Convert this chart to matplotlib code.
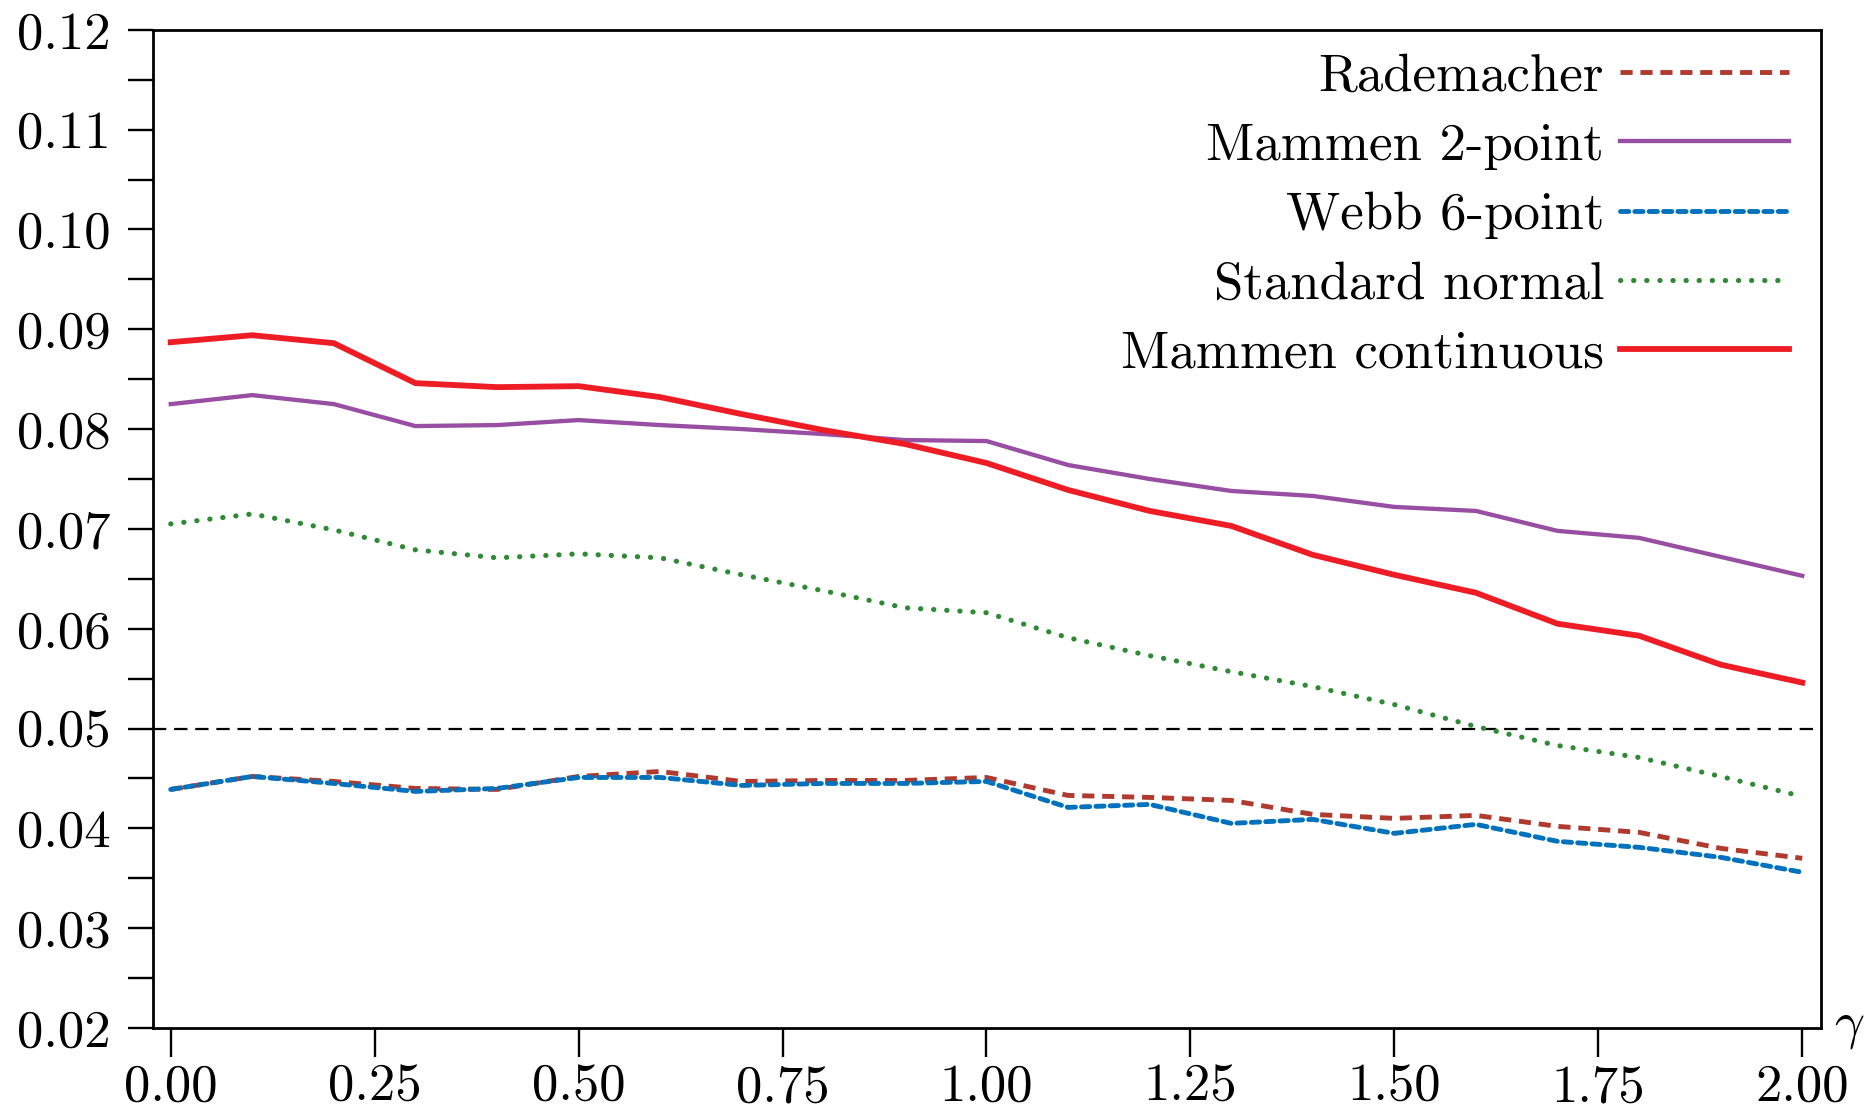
import numpy as np
import matplotlib
matplotlib.use("Agg")
import matplotlib.pyplot as plt
from matplotlib.ticker import MultipleLocator, FormatStrFormatter

# gamma grid and rejection rates
gamma = [0.0, 0.1, 0.2, 0.3, 0.4, 0.5, 0.6, 0.7, 0.8, 0.9, 1.0,
         1.1, 1.2, 1.3, 1.4, 1.5, 1.6, 1.7, 1.8, 1.9, 2.0]

rademacher = [0.0439, 0.0452, 0.0447, 0.0440, 0.0439, 0.0452, 0.0457, 0.0447, 0.0448, 0.0448, 0.0451,
              0.0433, 0.0431, 0.0428, 0.0414, 0.0410, 0.0413, 0.0402, 0.0396, 0.0380, 0.0370]
mammen2 = [0.0825, 0.0834, 0.0825, 0.0803, 0.0804, 0.0809, 0.0804, 0.0800, 0.0795, 0.0789, 0.0788,
           0.0764, 0.0750, 0.0738, 0.0733, 0.0722, 0.0718, 0.0698, 0.0691, 0.0672, 0.0653]
webb6 = [0.0439, 0.0452, 0.0445, 0.0437, 0.0440, 0.0451, 0.0451, 0.0443, 0.0445, 0.0445, 0.0447,
         0.0421, 0.0424, 0.0405, 0.0409, 0.0395, 0.0404, 0.0387, 0.0381, 0.0371, 0.0356]
std_normal = [0.0705, 0.0715, 0.0699, 0.0679, 0.0671, 0.0675, 0.0671, 0.0654, 0.0638, 0.0621, 0.0616,
              0.0591, 0.0573, 0.0557, 0.0542, 0.0524, 0.0502, 0.0483, 0.0471, 0.0452, 0.0432]
mammen_cont = [0.0887, 0.0894, 0.0886, 0.0846, 0.0842, 0.0843, 0.0832, 0.0815, 0.0799, 0.0785, 0.0766,
               0.0739, 0.0718, 0.0703, 0.0674, 0.0654, 0.0636, 0.0605, 0.0593, 0.0564, 0.0546]

nominal = 0.05

plt.rcParams['font.family'] = 'serif'
plt.rcParams['font.serif'] = ['cmr10']
plt.rcParams['mathtext.fontset'] = 'cm'
plt.rcParams['axes.formatter.use_mathtext'] = True
plt.rcParams['font.size'] = 38

fig = plt.figure(figsize=(18.7, 11.11), dpi=100)
ax = fig.add_axes([0.0817, 0.0747, 0.8921, 0.8985])

ax.axhline(nominal, color='black', lw=1.6, linestyle=(0, (6, 3.5)))

ax.plot(gamma, rademacher, color='#B03A2E', lw=3.5, linestyle=(0, (2.5, 1.6)),
        label='Rademacher')
ax.plot(gamma, mammen2, color='#984EA3', lw=3.1, label='Mammen 2-point')
ax.plot(gamma, webb6, color='#0072BD', lw=3.5, linestyle=(0, (1.7, 1.25)),
        dash_capstyle='round', label='Webb 6-point')
ax.plot(gamma, std_normal, color='#2F8A35', lw=3.7, linestyle=(0, (0.05, 2.5)),
        dash_capstyle='round', label='Standard normal')
ax.plot(gamma, mammen_cont, color='#EE1C25', lw=4.2, label='Mammen continuous')

ax.set_xlim(-0.022, 2.023)
ax.set_ylim(0.02, 0.12)
ax.xaxis.set_major_locator(MultipleLocator(0.25))
ax.xaxis.set_major_formatter(FormatStrFormatter('%.2f'))
ax.yaxis.set_major_locator(MultipleLocator(0.01))
ax.yaxis.set_minor_locator(MultipleLocator(0.005))
ax.yaxis.set_major_formatter(FormatStrFormatter('%.2f'))

for s in ax.spines.values():
    s.set_linewidth(2.0)
ax.tick_params(axis='both', which='both', direction='out', width=1.7)
ax.tick_params(axis='y', which='both', length=18, pad=12)
ax.tick_params(axis='x', which='major', length=21, pad=5)

ax.text(1.008, 0.0, r'$\gamma$', transform=ax.transAxes, ha='left', va='center')

ax.legend(loc='upper right', bbox_to_anchor=(0.995, 1.0), frameon=False,
          markerfirst=False, handlelength=3.2, handletextpad=0.3,
          labelspacing=0.42, borderaxespad=0.05)

fig.savefig('out.png', dpi=100)
